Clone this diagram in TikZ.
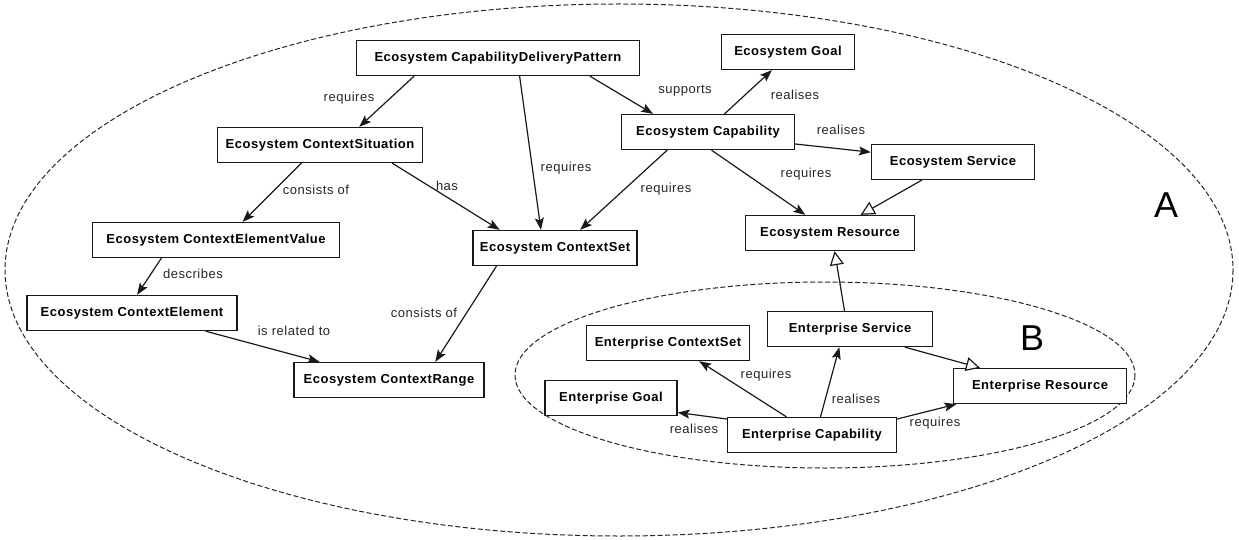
\documentclass[tikz,border=0pt]{standalone}
\usepackage{fontspec}
\setmainfont{Liberation Sans}[LetterSpace=4]
\newfontfamily\zonefont{Liberation Sans}
\usetikzlibrary{arrows.meta,calc}
\begin{document}
\begin{tikzpicture}[x=1pt,y=-1pt,
  box/.style={draw=black!90, line width=1.3pt, fill=white, minimum height=35pt,
    inner sep=0pt, font=\fontsize{13}{15}\selectfont\bfseries},
  lbl/.style={inner sep=1pt, font=\fontsize{13}{15}\selectfont, text=black!85},
  zone/.style={draw=black!85, line width=1pt, dash pattern=on 5pt off 2.5pt},
  zonelbl/.style={font=\zonefont\fontsize{36}{40}\selectfont},
  arr/.style={draw=black!90, line width=1.2pt, -{Stealth[length=12pt,width=9pt,inset=2.5pt]}},
  inh/.style={draw=black!90, line width=1.2pt, -{Triangle[open,length=14pt,width=14pt,fill=white]}}]
\useasboundingbox (0,0) rectangle (1239,540);

% dashed zones
\draw[zone] (619,270) ellipse [x radius=614, y radius=266];
\draw[zone] (825,375) ellipse [x radius=310, y radius=93];
\node[zonelbl] (zoneA) at (1166,205) {A};
\node[zonelbl] (zoneB) at (1032,338) {B};

% ecosystem level
\node[box, minimum width=283pt] (cdp)  at (498,58)  {Ecosystem CapabilityDeliveryPattern};
\node[box, minimum width=133pt] (egoal) at (788,52) {Ecosystem Goal};
\node[box, minimum width=205pt] (csit) at (320,145) {Ecosystem ContextSituation};
\node[box, minimum width=173pt] (ecap) at (708,132) {Ecosystem Capability};
\node[box, minimum width=163pt] (esrv) at (953,162) {Ecosystem Service};
\node[box, minimum width=247pt] (cev)  at (216,240) {Ecosystem ContextElementValue};
\node[box, minimum width=164pt] (cset) at (555,248) {Ecosystem ContextSet};
\node[box, minimum width=169pt] (eres) at (830,233) {Ecosystem Resource};
\node[box, minimum width=210pt] (cel)  at (132,313) {Ecosystem ContextElement};
\node[box, minimum width=190pt] (crng) at (389,380) {Ecosystem ContextRange};

% enterprise level
\node[box, minimum width=163pt] (ncset) at (668,343) {Enterprise ContextSet};
\node[box, minimum width=165pt] (nsrv)  at (850,329) {Enterprise Service};
\node[box, minimum width=132pt] (ngoal) at (611,398) {Enterprise Goal};
\node[box, minimum width=169pt] (ncap)  at (812,435) {Enterprise Capability};
\node[box, minimum width=173pt] (nres)  at (1040,386) {Enterprise Resource};

% ecosystem relations
\draw[arr] ($(cdp.south west)!.205!(cdp.south east)$) -- ($(csit.north west)!.69!(csit.north east)$);
\draw[arr] ($(cdp.south west)!.576!(cdp.south east)$) -- ($(cset.north west)!.415!(cset.north east)$);
\draw[arr] ($(cdp.south west)!.823!(cdp.south east)$) -- ($(ecap.north west)!.185!(ecap.north east)$);
\draw[arr] ($(ecap.north west)!.595!(ecap.north east)$) -- ($(egoal.south west)!.38!(egoal.south east)$);
\draw[arr] ($(ecap.north east)!.83!(ecap.south east)$) -- ($(esrv.north west)!.23!(esrv.south west)$);
\draw[arr] ($(ecap.south west)!.52!(ecap.south east)$) -- ($(eres.north west)!.355!(eres.north east)$);
\draw[arr] ($(ecap.south west)!.266!(ecap.south east)$) -- ($(cset.north west)!.652!(cset.north east)$);
\draw[inh] ($(esrv.south west)!.31!(esrv.south east)$) -- ($(eres.north west)!.68!(eres.north east)$);
\draw[arr] ($(csit.south west)!.41!(csit.south east)$) -- ($(cev.north west)!.607!(cev.north east)$);
\draw[arr] ($(csit.south west)!.85!(csit.south east)$) -- ($(cset.north west)!.165!(cset.north east)$);
\draw[arr] ($(cev.south west)!.28!(cev.south east)$) -- ($(cel.north west)!.524!(cel.north east)$);
\draw[arr] ($(cel.south west)!.848!(cel.south east)$) -- ($(crng.north west)!.137!(crng.north east)$);
\draw[arr] ($(cset.south west)!.146!(cset.south east)$) -- ($(crng.north west)!.742!(crng.north east)$);

% enterprise relations
\draw[inh] ($(nsrv.north west)!.467!(nsrv.north east)$) -- ($(eres.south west)!.527!(eres.south east)$);
\draw[inh] ($(nsrv.south west)!.83!(nsrv.south east)$) -- ($(nres.north west)!.156!(nres.north east)$);
\draw[arr] ($(ncap.north west)!.35!(ncap.north east)$) -- ($(ncset.south west)!.69!(ncset.south east)$);
\draw[arr] ($(ncap.north west)!.55!(ncap.north east)$) -- ($(nsrv.south west)!.436!(nsrv.south east)$);
\draw[arr] ($(ncap.north west)!.06!(ncap.south west)$) -- ($(ngoal.north east)!.9!(ngoal.south east)$);
\draw[arr] ($(ncap.north east)!.06!(ncap.south east)$) -- ($(nres.south west)!.02!(nres.south east)$);

% relation names
\node[lbl] (l1)  at (349,98)  {requires};
\node[lbl] (l2)  at (566,168) {requires};
\node[lbl] (l3)  at (685,91)  {supports};
\node[lbl] (l4)  at (795,95)  {realises};
\node[lbl] (l5)  at (841,130) {realises};
\node[lbl] (l6)  at (806,174) {requires};
\node[lbl] (l7)  at (666,189) {requires};
\node[lbl] (l8)  at (316,190) {consists of};
\node[lbl] (l9)  at (447,186) {has};
\node[lbl] (l10) at (193,274) {describes};
\node[lbl] (l11) at (294,331) {is related to};
\node[lbl] (l12) at (424,313) {consists of};
\node[lbl] (l13) at (766,375) {requires};
\node[lbl] (l14) at (856,399) {realises};
\node[lbl] (l15) at (694,429) {realises};
\node[lbl] (l16) at (935,423) {requires};
\end{tikzpicture}
\end{document}
